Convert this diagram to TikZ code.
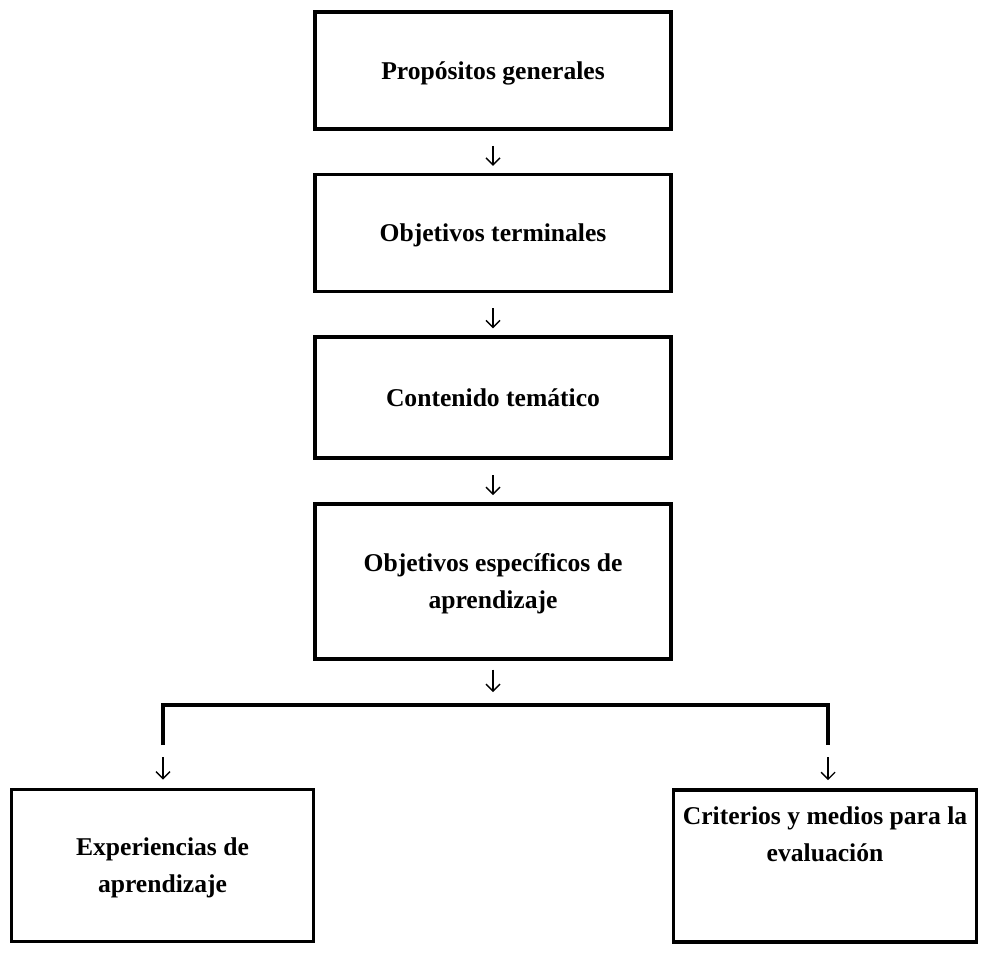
\documentclass[tikz,border=0pt]{standalone}
\usepackage{fontspec}
\setmainfont{Liberation Serif}
\usetikzlibrary{arrows.meta,positioning}

\begin{document}
\begin{tikzpicture}[
  x=1pt, y=1pt,
  node distance=21pt,
  box/.style={draw, line width=1.8pt, minimum width=178pt, minimum height=58.5pt, align=center, inner sep=2pt, text depth=0pt, font=\bfseries\fontsize{12.8}{18.5}\selectfont},
  low/.style={box, minimum width=151pt, minimum height=76pt},
  arr/.style={-{Straight Barb[length=3.5pt,width=7pt]}, line width=0.7pt, shorten <=7.5pt, shorten >=3.5pt},
  link/.style={line width=2pt}
]
  \useasboundingbox (0,0) rectangle (491.5,-477.5);
  \node[box] (pg) at (246.5,-35.25) {Propósitos generales};
  \node[box, below=of pg] (ot) {Objetivos terminales};
  \node[box, minimum height=60.5pt, below=of ot] (ct) {Contenido temático};
  \node[box, minimum height=77.5pt, below=of ct] (oe) {Objetivos específicos de\\aprendizaje};
  \node[low] (ea) at (81.25,-432.75) {Experiencias de\\aprendizaje};
  \node[low, minimum width=151.5pt, text height=33.5pt, text depth=38pt] (cm) at (412.5,-433) {Criterios y medios para la\\evaluación};
  \coordinate (hub) at (246.5,-352.5);
  \coordinate (lft) at (81.5,-352.5);
  \coordinate (rgt) at (414,-352.5);
  \coordinate (lftend) at (81.5,-372.5);
  \coordinate (rgtend) at (414,-372.5);
  \draw[arr] (pg) -- (ot);
  \draw[arr] (ot) -- (ct);
  \draw[arr] (ct) -- (oe);
  \draw[arr, shorten <=4.5pt, shorten >=6.5pt] (oe) -- (hub);
  \draw[link] (lftend) -- (lft) -- (rgt) -- (rgtend);
  \draw[arr, shorten <=6pt, shorten >=4pt] (lftend) -- (lftend |- ea.north);
  \draw[arr, shorten <=6pt, shorten >=4pt] (rgtend) -- (rgtend |- cm.north);
\end{tikzpicture}
\end{document}
